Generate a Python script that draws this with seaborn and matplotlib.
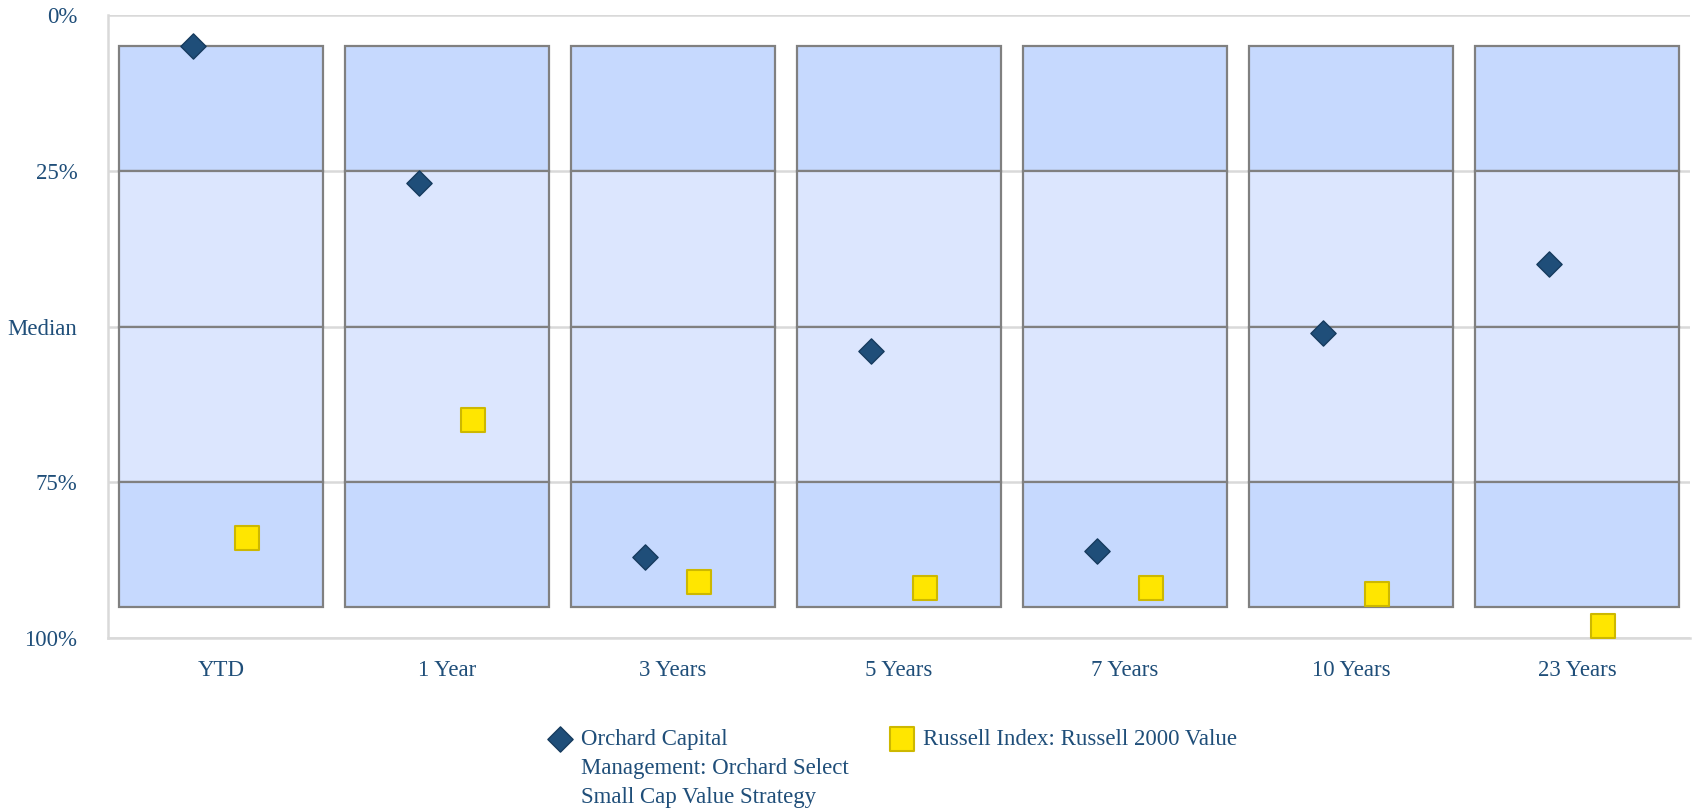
import numpy as np
import pandas as pd
import matplotlib
matplotlib.use("Agg")
import matplotlib.pyplot as plt
import seaborn as sns

categories = ["YTD", "1 Year", "3 Years", "5 Years", "7 Years", "10 Years", "23 Years"]
strategy_rank = [5, 27, 87, 54, 86, 51, 40]
benchmark_rank = [84, 65, 91, 92, 92, 93, 98]
band_edges = [5, 25, 50, 75, 95]
band_colors = ["#C6D9FE", "#DCE6FE", "#DCE6FE", "#C6D9FE"]
y_ticks = [0, 25, 50, 75, 100]
y_labels = ["0%", "25%", "Median", "75%", "100%"]
strategy_name = "Orchard Capital\nManagement: Orchard Select\nSmall Cap Value Strategy"
benchmark_name = "Russell Index: Russell 2000 Value"

text_color = "#1F4E79"

sns.set_theme(style="white")
plt.rcParams["font.family"] = ["Liberation Serif", "DejaVu Serif"]

fig = plt.figure(figsize=(16.98, 8.09), dpi=100)
ax = fig.add_axes([0.0636, 0.2114, 0.9317, 0.770])

x = np.arange(len(categories))

# percentile bands
for lo, hi, col in zip(band_edges[:-1], band_edges[1:], band_colors):
    ax.bar(x, hi - lo, bottom=lo, width=0.9, color=col, edgecolor="#808080",
           linewidth=1.6, zorder=2)

df = pd.DataFrame({
    "pos": np.concatenate([x - 0.125, x + 0.115]),
    "rank": strategy_rank + benchmark_rank,
    "series": [strategy_name] * len(x) + [benchmark_name] * len(x),
})

sns.scatterplot(data=df[df.series == strategy_name], x="pos", y="rank", marker="D",
                s=165, color="#1F4E79", edgecolor="#163B5E", linewidth=1,
                label=strategy_name, zorder=4, ax=ax)
sns.scatterplot(data=df[df.series == benchmark_name], x="pos", y="rank", marker="s",
                s=320, color="#FFE600", edgecolor="#CDB800", linewidth=1.5,
                label=benchmark_name, zorder=4, ax=ax)

ax.set_xlim(-0.5, len(categories) - 0.5)
ax.set_ylim(100, 0)
ax.set_xlabel("")
ax.set_ylabel("")

ax.set_yticks(y_ticks, y_labels)
ax.set_xticks(x, categories)
ax.set_xticks(np.arange(-0.5, len(categories)), minor=True)
ax.tick_params(axis="y", length=0, pad=22, labelsize=16.5, labelcolor=text_color)
ax.tick_params(axis="x", which="major", length=0, pad=16, labelsize=16.5, labelcolor=text_color)
ax.tick_params(axis="x", which="minor", length=14, width=1.5, color="#CBD5E1", direction="out")

ax.yaxis.grid(True, color="#D9D9D9", linewidth=1.8)
ax.set_axisbelow(True)
for side in ["top", "right"]:
    ax.spines[side].set_visible(False)
for side in ["left", "bottom"]:
    ax.spines[side].set_color("#D9D9D9")
    ax.spines[side].set_linewidth(1.8)

handles, labels = ax.get_legend_handles_labels()
ax.legend_.remove()
leg = fig.legend(handles, labels, ncol=2, loc="upper left", bbox_to_anchor=(0.323, 0.099),
                 frameon=False, fontsize=16.5, handlelength=1.0, handleheight=1.1,
                 handletextpad=0.4, columnspacing=1.85, labelcolor=text_color,
                 borderaxespad=0, borderpad=0)
for t in leg.get_texts():
    t.set_linespacing(1.5)
# keep markers level with the first line of each label
leg._legend_handle_box.align = "top"
for col in leg._legend_handle_box.get_children():
    col.align = "left"
    for row in col.get_children():
        row.align = "top"

fig.savefig("out.png", dpi=100)
